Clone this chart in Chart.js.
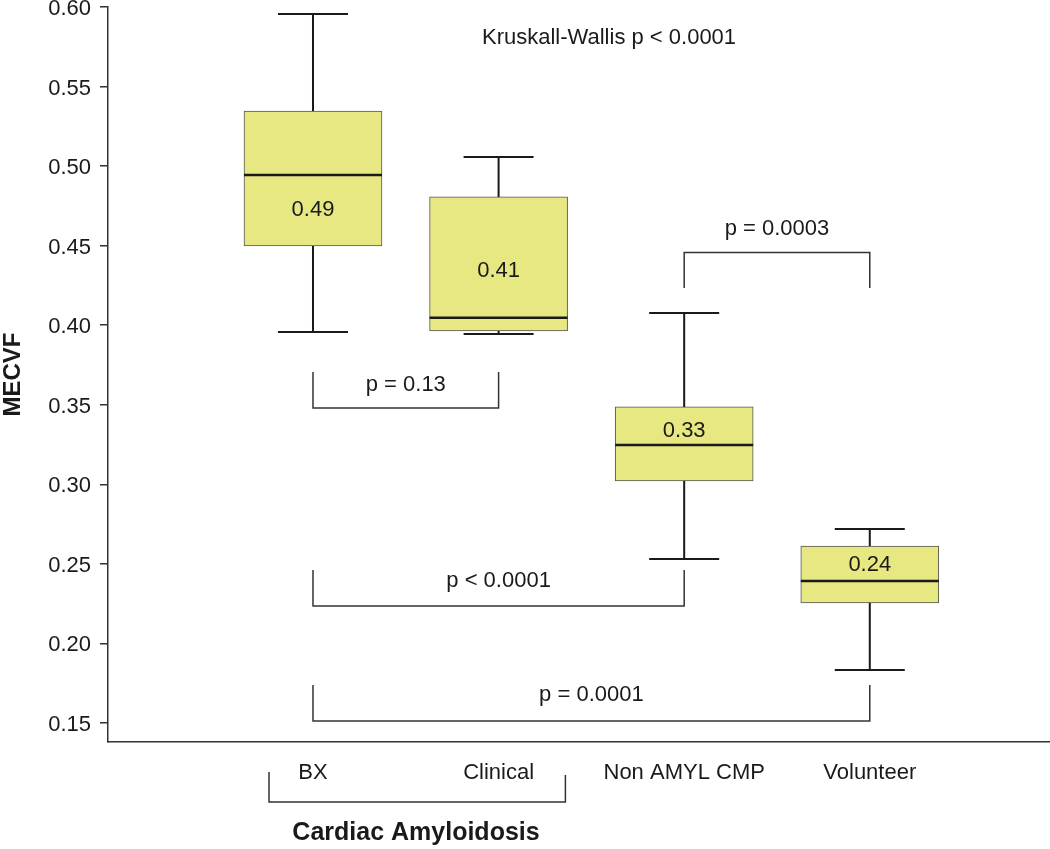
<!DOCTYPE html>
<html lang="en">
<head>
  <meta charset="UTF-8">
  <title>MECVF</title>
  <script src="https://cdn.jsdelivr.net/npm/chart.js"></script>
  <style>
    body { margin: 0; background: #fff; }
    #wrap { width: 1050px; height: 849px; }
  </style>
</head>
<body>
  <div id="wrap"><canvas id="boxChart"></canvas></div>
  <script>
    const groups = ['BX', 'Clinical', 'Non AMYL CMP', 'Volunteer'];
    const whiskerLow = [0.3957, 0.3945, 0.2531, 0.1833];
    const q1 = [0.4498, 0.3964, 0.3021, 0.2254];
    const median = [0.4944, 0.4046, 0.3247, 0.2392];
    const q3 = [0.5346, 0.4806, 0.3486, 0.2612];
    const whiskerHigh = [0.5956, 0.5057, 0.4076, 0.2719];
    const medianLabels = ['0.49', '0.41', '0.33', '0.24'];
    const yTicks = [0.15, 0.20, 0.25, 0.30, 0.35, 0.40, 0.45, 0.50, 0.55, 0.60];

    // where the median labels sit (y values) and the p-value brackets
    const labelY = [0.4724, 0.4341, 0.3335, 0.2493];
    const brackets = [
      { from: 1, to: 2, y: 0.348, tip: 0.3706, text: 'p = 0.13', ty: 0.3625 },
      { from: 3, to: 4, y: 0.4457, tip: 0.4234, text: 'p = 0.0003', ty: 0.4605 },
      { from: 1, to: 3, y: 0.2235, tip: 0.2461, text: 'p < 0.0001', ty: 0.2392 },
      { from: 1, to: 4, y: 0.1512, tip: 0.1739, text: 'p = 0.0001', ty: 0.1676 }
    ];

    const FONT = 'Liberation Sans, Arial, Helvetica, sans-serif';
    const INK = '#1a1a1a';

    const boxExtras = {
      id: 'boxExtras',
      afterDatasetsDraw(chart) {
        const ctx = chart.ctx;
        const x = chart.scales.x, y = chart.scales.y;
        const cap = 35;
        ctx.save();
        ctx.strokeStyle = INK;
        ctx.fillStyle = INK;
        ctx.lineWidth = 2;
        ctx.lineCap = 'butt';
        groups.forEach((g, i) => {
          const cx = x.getPixelForValue(i + 1);
          const half = 69;
          ctx.beginPath();
          // whiskers
          ctx.moveTo(cx, y.getPixelForValue(q3[i]));
          ctx.lineTo(cx, y.getPixelForValue(whiskerHigh[i]));
          ctx.moveTo(cx - cap, y.getPixelForValue(whiskerHigh[i]));
          ctx.lineTo(cx + cap, y.getPixelForValue(whiskerHigh[i]));
          ctx.moveTo(cx, y.getPixelForValue(q1[i]));
          ctx.lineTo(cx, y.getPixelForValue(whiskerLow[i]));
          ctx.moveTo(cx - cap, y.getPixelForValue(whiskerLow[i]));
          ctx.lineTo(cx + cap, y.getPixelForValue(whiskerLow[i]));
          ctx.stroke();
          // median
          ctx.beginPath();
          ctx.lineWidth = 2.5;
          ctx.moveTo(cx - half, y.getPixelForValue(median[i]));
          ctx.lineTo(cx + half, y.getPixelForValue(median[i]));
          ctx.stroke();
          ctx.lineWidth = 2;
          ctx.font = '22px ' + FONT;
          ctx.textAlign = 'center';
          ctx.textBaseline = 'middle';
          ctx.fillText(medianLabels[i], cx, y.getPixelForValue(labelY[i]));
        });

        // p-value brackets
        ctx.lineWidth = 1.5;
        ctx.strokeStyle = '#333';
        brackets.forEach(b => {
          const x1 = x.getPixelForValue(b.from), x2 = x.getPixelForValue(b.to);
          const yb = y.getPixelForValue(b.y), yt = y.getPixelForValue(b.tip);
          ctx.beginPath();
          ctx.moveTo(x1, yt);
          ctx.lineTo(x1, yb);
          ctx.lineTo(x2, yb);
          ctx.lineTo(x2, yt);
          ctx.stroke();
          ctx.fillText(b.text, (x1 + x2) / 2, y.getPixelForValue(b.ty));
        });

        ctx.fillText('Kruskall-Wallis p < 0.0001', x.getPixelForValue(2.595), y.getPixelForValue(0.5805));

        // group bracket under the axis
        const bot = chart.chartArea.bottom;
        const gx1 = x.getPixelForValue(0.763), gx2 = x.getPixelForValue(2.36);
        ctx.beginPath();
        ctx.moveTo(gx1, bot + 30);
        ctx.lineTo(gx1, bot + 60);
        ctx.lineTo(gx2, bot + 60);
        ctx.lineTo(gx2, bot + 33);
        ctx.stroke();
        ctx.font = 'bold 25px ' + FONT;
        ctx.fillText('Cardiac Amyloidosis', x.getPixelForValue(1.555), bot + 91);
        ctx.restore();
      }
    };

    function createChart() {
      const ctx = document.getElementById('boxChart').getContext('2d');
      new Chart(ctx, {
        type: 'bar',
        data: {
          datasets: [{
            label: 'MECVF',
            data: groups.map((g, i) => ({ x: i + 1, y: [q1[i], q3[i]] })),
            backgroundColor: '#e8e883',
            borderColor: '#555',
            borderWidth: 1,
            borderSkipped: false,
            barThickness: 138
          }]
        },
        options: {
          responsive: true,
          maintainAspectRatio: false,
          animation: false,
          layout: { padding: { left: 0, right: 0, top: 7, bottom: 0 } },
          plugins: { legend: { display: false }, tooltip: { enabled: false } },
          scales: {
            x: {
              type: 'linear',
              offset: false,
              min: -0.1045,
              max: 4.971,
              grid: { display: false },
              border: { display: true, color: '#333', width: 1.5 },
              afterBuildTicks: s => { s.ticks = groups.map((g, i) => ({ value: i + 1 })); },
              afterFit: s => { s.height = 107; s.paddingLeft = 0; s.paddingRight = 0; },
              ticks: {
                autoSkip: false,
                maxRotation: 0,
                padding: 10,
                color: INK,
                font: { family: FONT, size: 22 },
                callback: v => groups[v - 1] || ''
              }
            },
            y: {
              min: 0.138,
              max: 0.60,
              afterBuildTicks: s => { s.ticks = yTicks.map(v => ({ value: v })); },
              afterFit: s => { s.width = 108; s.paddingTop = 0; s.paddingBottom = 0; },
              grid: { display: true, drawOnChartArea: false, drawTicks: true, tickLength: 8, color: '#333', lineWidth: 1.5 },
              border: { display: true, color: '#333', width: 1.5 },
              ticks: {
                padding: 9,
                labelOffset: 2,
                color: INK,
                font: { family: FONT, size: 22 },
                callback: v => v.toFixed(2)
              },
              title: {
                display: true,
                text: 'MECVF',
                color: INK,
                padding: { top: 1 },
                font: { family: FONT, size: 24, weight: 'bold', lineHeight: 1 }
              }
            }
          }
        },
        plugins: [boxExtras]
      });
    }

    createChart();
  </script>
</body>
</html>
